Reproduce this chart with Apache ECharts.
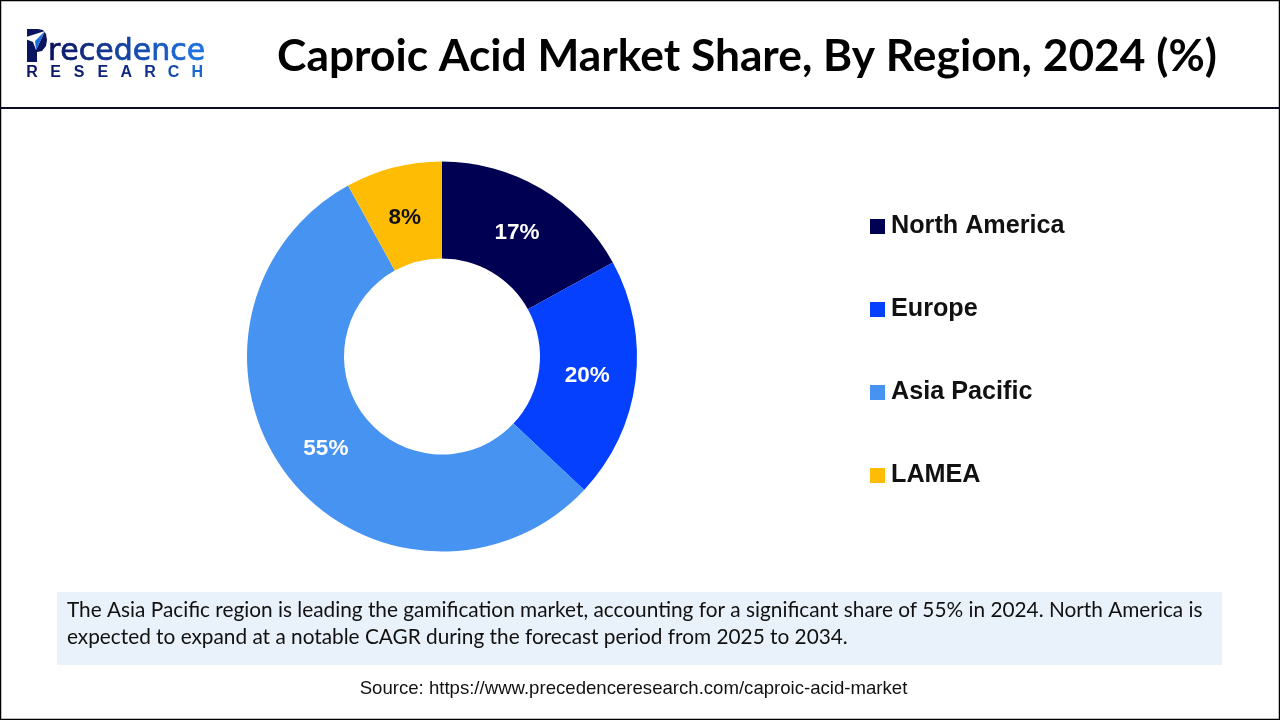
<!DOCTYPE html>
<html><head><meta charset="utf-8">
<style>html,body{margin:0;padding:0;background:#fff}#c{width:1280px;height:720px}</style>
<script src="https://cdn.jsdelivr.net/npm/echarts@6/dist/echarts.min.js"></script>
</head><body><div id="c"></div>
<script>
const regions = ['North America','Europe','Asia Pacific','LAMEA'];
const shares = [17,20,55,8];
const colors = ['#000052','#0640FF','#4693F2','#FFBC05'];
const labelColors = ['#ffffff','#ffffff','#ffffff','#111111'];
const labelNudges = [[-1,5],[-3,1],[2,1],[0,6]];
const titleText = 'Caproic Acid Market Share, By Region, 2024 (%)';
const noteLines = ['The Asia Pacific region is leading the gamification market, accounting for a significant share of 55% in 2024. North America is','expected to expand at a notable CAGR during the forecast period from 2025 to 2034.'];
const sourceText = 'Source: https://www.precedenceresearch.com/caproic-acid-market';
const logoWord = 'recedence';
const logoSub = 'RESEARCH';
const ff = 'Lato, "Open Sans", sans-serif';
const arial = '"Liberation Sans",Arial,sans-serif';
const chart = echarts.init(document.getElementById('c'),null,{renderer:'canvas'});
function mix(t){ // navy to logo blue
  const a=[10,21,96],b=[30,111,224];
  return 'rgb('+a.map((v,i)=>Math.round(v+(b[i]-v)*t)).join(',')+')';
}
const wordRich={}; let wordText='';
logoWord.split('').forEach((ch,i)=>{const k='l'+i;wordRich[k]={fill:mix(i/(logoWord.length-1)),fontFamily:'"DejaVu Sans",sans-serif',fontSize:30,stroke:mix(i/(logoWord.length-1)),lineWidth:0.7};wordText+='{'+k+'|'+ch+'}';});
const subGraphics=logoSub.split('').map((ch,i)=>({type:'text',silent:true,style:{x:32+i*23.6,y:73,text:ch,align:'center',textAlign:'center',textVerticalAlign:'middle',fontFamily:arial,fontWeight:'bold',fontSize:16,fill:mix(i<5?i*0.06:(i-4)*0.3)}}));
chart.setOption({
  animation:false,
  backgroundColor:'#fff',
  title:{text:titleText,left:742,top:30,textAlign:'center',textStyle:{fontFamily:ff,fontSize:44.3,fontWeight:'bold',color:'#000'}},
  legend:{orient:'vertical',left:865,top:209,itemWidth:15,itemHeight:15,itemGap:58,icon:'rect',selectedMode:false,
    data:regions,textStyle:{fontFamily:arial,fontSize:25.2,fontWeight:'bold',color:'#111',padding:[0,0,0,1]}},
  series:[{type:'pie',center:[442,356.5],radius:[98,195],startAngle:90,clockwise:true,silent:true,
    data:regions.map((n,i)=>({name:n,value:shares[i],itemStyle:{color:colors[i]},
      label:{color:labelColors[i],offset:labelNudges[i]}})),
    label:{position:'inside',formatter:'{c}%',fontFamily:arial,fontSize:22.5,fontWeight:'bold'},
    labelLine:{show:false}}],
  graphic:[
    {type:'rect',silent:true,z:-1,shape:{x:0.5,y:0.5,width:1279,height:719},style:{fill:'none',stroke:'#000',lineWidth:1.5}},
    {type:'rect',silent:true,shape:{x:0,y:107,width:1280,height:2},style:{fill:'#0b0b24'}},
    {type:'rect',silent:true,z:-1,shape:{x:57,y:592,width:1165,height:73},style:{fill:'#E9F1FA'}},
    {type:'text',silent:true,style:{x:67,y:610,text:noteLines[0],fontFamily:ff,fontSize:20.8,fill:'#111',textVerticalAlign:'middle'}},
    {type:'text',silent:true,style:{x:67,y:637,text:noteLines[1],fontFamily:ff,fontSize:20.8,fill:'#111',textVerticalAlign:'middle'}},
    {type:'text',silent:true,style:{x:633.5,y:689,text:sourceText,align:'center',textAlign:'center',fontFamily:arial,fontSize:18.6,fill:'#111',textVerticalAlign:'middle'}},
    /* logo */
    {type:'polygon',silent:true,shape:{points:[[27,29],[38,29],[43,30],[46,34],[47,40],[46,46],[42,51],[37,52],[37,62],[27,62]]},style:{fill:'#0A1560'}},
    {type:'polygon',silent:true,shape:{points:[[23,38],[45,31],[36,50],[33,42]]},style:{fill:'#fff'}},
    {type:'polygon',silent:true,shape:{points:[[45,31],[36,50],[35,41]]},style:{fill:'#1E6FE0'}},
    {type:'text',silent:true,style:{x:48,y:52,text:wordText,rich:wordRich,textVerticalAlign:'middle'}}
  ].concat(subGraphics)
});
</script></body></html>
